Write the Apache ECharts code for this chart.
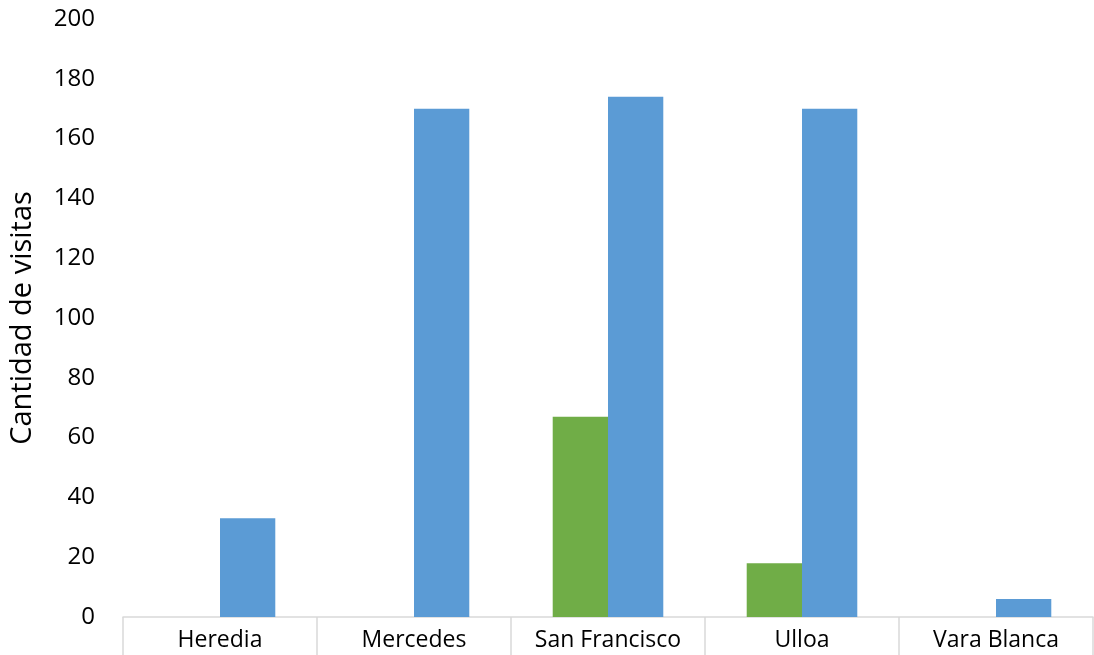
<!DOCTYPE html>
<html lang="es">
	<head>
		<meta charset="UTF-8">
		<title>Cantidad de visitas</title>
		<script src="https://cdn.jsdelivr.net/npm/echarts@6/dist/echarts.min.js" type="text/javascript" charset="utf-8"></script>
		<style>
			html, body { margin: 0; padding: 0; background: #fff; }
			#myChart { width: 1094px; height: 655px; }
		</style>
	</head>
	<body>
		<div id="myChart"></div>
		<script type="text/javascript">
			// categorias (eje x)
			var categorias = ['Heredia', 'Mercedes', 'San Francisco', 'Ulloa', 'Vara Blanca'];
			// serie verde
			var serieVerde = [0, 0, 67, 18, 0];
			// serie azul
			var serieAzul = [33, 170, 174, 170, 6];

			var myChart = echarts.init(document.getElementById('myChart'));
			var option = {
				animation: false,
				textStyle: {
					fontFamily: 'Open Sans'
				},
				grid: {
					left: 120,
					right: 1,
					top: 19,
					bottom: 38
				},
				xAxis: {
					type: 'category',
					data: categorias,
					axisLine: {
						lineStyle: { color: '#d9d9d9', width: 1.5 }
					},
					axisTick: {
						show: true,
						length: 40,
						lineStyle: { color: '#d9d9d9', width: 1.5 }
					},
					axisLabel: {
						color: '#000',
						fontSize: 23,
						margin: 12
					}
				},
				yAxis: {
					type: 'value',
					min: 0,
					max: 200,
					interval: 20,
					name: 'Cantidad de visitas',
					nameLocation: 'middle',
					nameGap: 86,
					nameRotate: 90,
					nameTextStyle: {
						color: '#000',
						fontSize: 29
					},
					axisLine: { show: false },
					axisTick: { show: false },
					splitLine: { show: false },
					axisLabel: {
						color: '#000',
						fontSize: 24,
						margin: 28
					}
				},
				series: [{
					type: 'bar',
					data: serieVerde,
					barGap: '0%',
					barCategoryGap: '43%',
					itemStyle: { color: '#70ad47' }
				}, {
					type: 'bar',
					data: serieAzul,
					itemStyle: { color: '#5b9bd5' }
				}]
			};
			myChart.setOption(option);
		</script>
	</body>
</html>
